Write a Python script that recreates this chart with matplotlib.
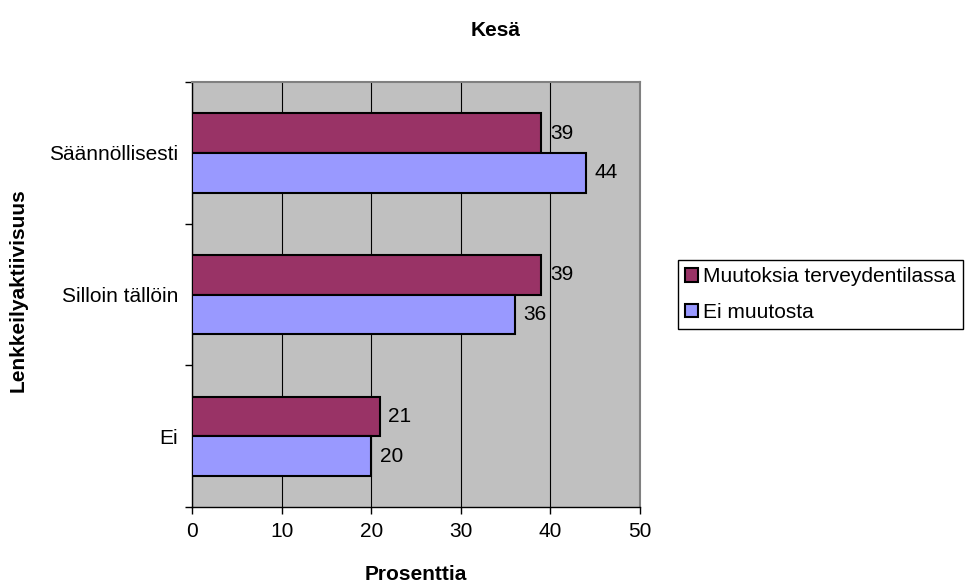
import matplotlib.pyplot as plt
import numpy as np

plt.rcParams['font.family'] = ['Liberation Sans', 'DejaVu Sans']

# Lenkkeilyaktiivisuus kesällä, prosenttia
categories = ["Säännöllisesti", "Silloin tällöin", "Ei"]
muutoksia = [39, 39, 21]
ei_muutosta = [44, 36, 20]
series_names = ["Muutoksia terveydentilassa", "Ei muutosta"]
xticks = [0, 10, 20, 30, 40, 50]

FS = 15

fig = plt.figure(figsize=(9.65, 5.84), dpi=100)
ax = fig.add_axes([192 / 965, 1 - 507 / 584, 448 / 965, 425 / 584])
ax.set_facecolor('#C0C0C0')

y = np.arange(len(categories))
h = 0.28
b1 = ax.barh(y - h / 2, muutoksia, height=h, color='#993366', edgecolor='black',
             linewidth=1.5, label=series_names[0], zorder=3)
b2 = ax.barh(y + h / 2, ei_muutosta, height=h, color='#9999FF', edgecolor='black',
             linewidth=1.5, label=series_names[1], zorder=3)

for bars, vals in ((b1, muutoksia), (b2, ei_muutosta)):
    for bar, v in zip(bars, vals):
        ax.annotate(str(v), (v, bar.get_y() + bar.get_height() / 2),
                    xytext=(6, 0), textcoords='offset points',
                    ha='left', va='center', fontsize=FS)

ax.set_xlim(0, 50)
ax.set_ylim(2.5, -0.5)
ax.set_xticks(xticks)
ax.set_xticklabels([str(t) for t in xticks], fontsize=FS)
ax.xaxis.grid(True, color='black', linewidth=0.8, zorder=1)
ax.tick_params(axis='x', length=5, width=1, pad=6)

ax.set_yticks(y)
ax.set_yticklabels(categories, fontsize=FS)
ax.tick_params(axis='y', which='major', length=0, pad=10)
ax.set_yticks([-0.5, 0.5, 1.5, 2.5], minor=True)
ax.tick_params(axis='y', which='minor', length=5, width=1)

for side in ('top', 'right'):
    ax.spines[side].set_color('#808080')
    ax.spines[side].set_linewidth(1.5)
for side in ('left', 'bottom'):
    ax.spines[side].set_color('black')
    ax.spines[side].set_linewidth(1)

fig.text(496 / 965, 1 - 30 / 584, "Kesä", ha='center', va='center',
         fontsize=FS, fontweight='bold')
fig.text(416 / 965, 1 - 574 / 584, "Prosenttia", ha='center', va='center',
         fontsize=FS, fontweight='bold')
fig.text(18 / 965, 1 - 290 / 584, "Lenkkeilyaktiivisuus", ha='center', va='center',
         rotation=90, fontsize=FS, fontweight='bold')

leg = fig.legend(handles=[b1, b2], loc='upper left',
                 bbox_to_anchor=(678 / 965, 1 - 260 / 584), fontsize=FS,
                 frameon=True, fancybox=False, framealpha=1, edgecolor='black',
                 handlelength=0.6, handleheight=0.6, handletextpad=0.25,
                 borderpad=0.35, labelspacing=0.8, borderaxespad=0)
leg.get_frame().set_linewidth(1)

fig.savefig('out.png', dpi=100)
